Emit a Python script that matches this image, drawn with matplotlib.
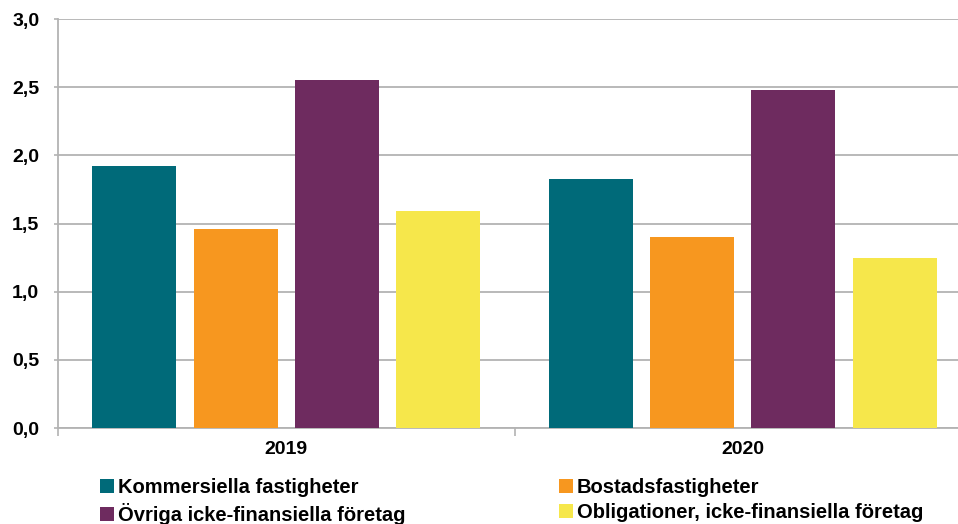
import numpy as np
import matplotlib.pyplot as plt
from matplotlib import font_manager

bold_path = font_manager.findfont(font_manager.FontProperties(family='Liberation Sans', weight='bold'))
tick_font = font_manager.FontProperties(fname=bold_path, size=14)
legend_font = font_manager.FontProperties(fname=bold_path, size=14.5)

years = ['2019', '2020']
series = ['Kommersiella fastigheter', 'Bostadsfastigheter',
          'Övriga icke-finansiella företag', 'Obligationer, icke-finansiella företag']
kommersiella = [1.92, 1.83]
bostad = [1.46, 1.40]
ovriga = [2.55, 2.48]
obligationer = [1.59, 1.25]
colors = ['#006A79', '#F7971F', '#6E2B5F', '#F6E74B']

fig = plt.figure(figsize=(9.58, 5.24), dpi=100)
ax = fig.add_axes([58 / 958, 1 - 428 / 524, 913 / 958, 409 / 524])

x = np.arange(len(years))
step = 0.222
width = 0.184
bars = []
for i, (vals, name) in enumerate(zip([kommersiella, bostad, ovriga, obligationer], series)):
    bars.append(ax.bar(x + (i - 1.5) * step, vals, width, color=colors[i], label=name, zorder=3))

ax.set_ylim(0, 3.0)
ax.set_xlim(-0.5, 1.5)
yt = np.arange(0, 3.01, 0.5)
ax.set_yticks(yt)
ax.set_yticklabels([f'{v:.1f}'.replace('.', ',') for v in yt], fontproperties=tick_font)
ax.yaxis.grid(True, color='#B3B3B3', linewidth=1.3, zorder=0)
ax.tick_params(axis='y', length=3, width=1.2, color='#B3B3B3', pad=10.5)

# year labels centred on each group, tick marks on the group boundaries
ax.set_xticks(x)
ax.set_xticklabels(years, fontproperties=tick_font)
ax.tick_params(axis='x', length=0, pad=9)
ax.set_xticks([-0.5, 0.5, 1.5], minor=True)
ax.tick_params(axis='x', which='minor', length=6, color='#B3B3B3', width=1.2)

for side in ['top', 'right']:
    ax.spines[side].set_visible(False)
for side in ['left', 'bottom']:
    ax.spines[side].set_color('#B3B3B3')
    ax.spines[side].set_linewidth(1.3)

# legend filled row by row: matplotlib fills columns first, so reorder
order = [0, 2, 1, 3]
fig.legend([bars[i] for i in order], [series[i] for i in order], ncol=2,
           loc='upper left', bbox_to_anchor=(100 / 958, 1 - 478 / 524),
           frameon=False, handlelength=0.7, handleheight=0.7,
           handletextpad=0.2, columnspacing=7.6, labelspacing=0.3,
           borderaxespad=0, borderpad=0, prop=legend_font)

fig.savefig('out.png', dpi=100)
